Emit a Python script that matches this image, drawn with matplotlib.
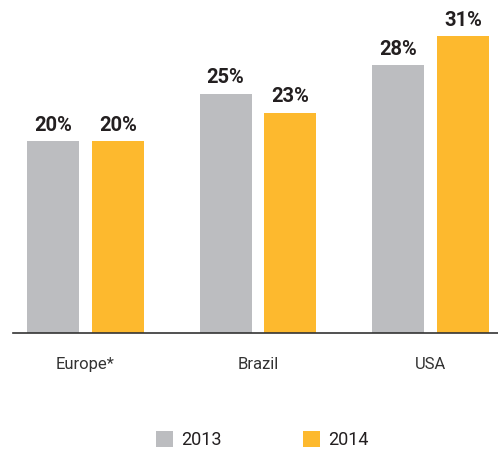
import matplotlib
matplotlib.use("Agg")
import matplotlib.pyplot as plt
import numpy as np

categories = ["Europe*", "Brazil", "USA"]
series_names = ["2013", "2014"]
values_2013 = [20, 25, 28]
values_2014 = [20, 23, 31]

gray = "#BCBDC0"
yellow = "#FDB92E"
txt = "#231F20"

plt.rcParams['font.family'] = ['Roboto', 'DejaVu Sans']

fig = plt.figure(figsize=(4.98, 4.5), dpi=100)
ax = fig.add_axes([13/498, (450-333)/450, (498-13)/498, 333/450])

x = np.arange(len(categories))
w = 0.3014
off = 0.188
b1 = ax.bar(x - off, values_2013, w, color=gray, label=series_names[0])
b2 = ax.bar(x + off, values_2014, w, color=yellow, label=series_names[1])

for bars, vals in ((b1, values_2013), (b2, values_2014)):
    for r, v in zip(bars, vals):
        ax.annotate(f"{v}%", (r.get_x() + r.get_width()/2, v),
                    xytext=(0, 4.5), textcoords="offset points",
                    ha="center", va="bottom", fontsize=14.5, fontweight="bold",
                    color=txt, annotation_clip=False)

ax.set_xlim(-0.42, 2.391)
ax.set_ylim(0, 34.76)
for s in ["top", "right", "left"]:
    ax.spines[s].set_visible(False)
ax.spines["bottom"].set_color("#333333")
ax.spines["bottom"].set_linewidth(1.2)
ax.set_yticks([])
ax.set_xticks(x)
ax.set_xticklabels(categories, fontsize=12, color="#333333")
ax.tick_params(axis="x", length=0, pad=17)

fig.legend(handles=[b1, b2], labels=series_names, loc="center",
           bbox_to_anchor=(262/498, 1-440/450), ncol=2, frameon=False,
           fontsize=13, handlelength=0.95, handleheight=0.95,
           handletextpad=0.45, columnspacing=4.5, borderpad=0,
           labelcolor=txt)

fig.savefig("out.png", dpi=100)
